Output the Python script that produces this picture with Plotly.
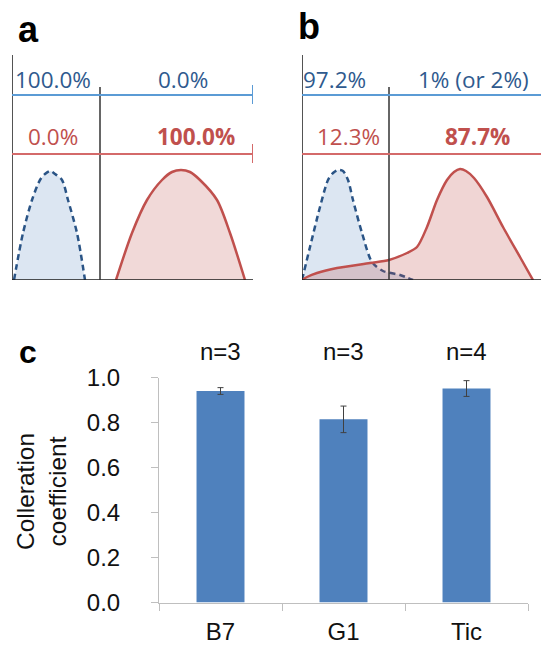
import plotly.graph_objects as go

W, H = 541, 645

# ---------------- data ----------------
# panel c: bar chart
categories = ["B7", "G1", "Tic"]
coef_values = [0.940, 0.814, 0.951]
coef_errors = [0.015, 0.059, 0.035]
n_labels = ["n=3", "n=3", "n=4"]
y_ticks = [0.0, 0.2, 0.4, 0.6, 0.8, 1.0]

# panel a: distribution outlines (x, height) in panel units
a_blue_x = [2, 11, 20, 28, 33, 38, 43, 50, 56, 65, 73]
a_blue_y = [0, 47, 80, 100, 106, 109, 106, 100, 80, 47, 0]
a_red_x = [104, 120, 135, 150, 160, 169, 178, 188, 205, 218, 233]
a_red_y = [0, 47, 80, 100, 108, 110, 108, 100, 80, 47, 0]

# panel b
b_blue_x = [0, 8, 18, 26, 31, 36, 41, 46, 51, 60, 70, 81, 98, 111]
b_blue_y = [0, 33, 73, 100, 107, 110, 109, 100, 80, 47, 18, 9, 5, 0]
b_red_x = [0, 5, 15, 35, 68, 87, 105, 115, 125, 135, 145, 152, 158, 164, 172, 185, 201, 218, 231]
b_red_y = [0, 3, 7, 12, 17, 20, 27, 33, 53, 80, 100, 108, 111, 109, 102, 83, 53, 23, 0]

# percentages
a_top = ["100.0%", "0.0%"]
a_bottom = ["0.0%", "<b>100.0%</b>"]
b_top = ["97.2%", "1% (or 2%)"]
b_bottom = ["12.3%", "<b>87.7%</b>"]

# ---------------- styles ----------------
BLUE_TXT = "#2F5A8E"
RED_TXT = "#C0504D"
BLUE_LINE = "#5B9BD5"
RED_LINE = "#D46A6A"
BLUE_CURVE = "#2A5486"
RED_CURVE = "#C0504D"
BLUE_FILL = "rgba(79,129,189,0.20)"
RED_FILL = "rgba(192,80,77,0.22)"
BAR = "#4F81BD"
AXG = "#BFBFBF"
TXT_FONT = "Open Sans"

fig = go.Figure()

def px2x(px):
    return px / W

def py2y(py):
    return 1 - py / H

# ---- panel a traces ----
fig.add_trace(go.Scatter(x=a_blue_x, y=a_blue_y, xaxis="x2", yaxis="y2",
                         mode="lines", line=dict(color=BLUE_CURVE, width=2.5, dash="6px,4px", shape="spline", smoothing=0.8),
                         fill="tozeroy", fillcolor=BLUE_FILL, hoverinfo="skip"))
fig.add_trace(go.Scatter(x=a_red_x, y=a_red_y, xaxis="x2", yaxis="y2",
                         mode="lines", line=dict(color=RED_CURVE, width=2.5, shape="spline", smoothing=0.8),
                         fill="tozeroy", fillcolor=RED_FILL, hoverinfo="skip"))
# ---- panel b traces ----
fig.add_trace(go.Scatter(x=b_blue_x, y=b_blue_y, xaxis="x3", yaxis="y3",
                         mode="lines", line=dict(color=BLUE_CURVE, width=2.5, dash="6px,4px", shape="spline", smoothing=0.8),
                         fill="tozeroy", fillcolor=BLUE_FILL, hoverinfo="skip"))
fig.add_trace(go.Scatter(x=b_red_x, y=b_red_y, xaxis="x3", yaxis="y3",
                         mode="lines", line=dict(color=RED_CURVE, width=2.5, shape="spline", smoothing=0.8),
                         fill="tozeroy", fillcolor="rgba(192,80,77,0.24)", hoverinfo="skip"))

# ---- panel c bars ----
fig.add_trace(go.Bar(x=categories, y=coef_values, marker=dict(color=BAR, line=dict(width=0)),
                     width=0.39,
                     error_y=dict(type="data", array=coef_errors, visible=True, color="#404040",
                                  thickness=1, width=3),
                     xaxis="x", yaxis="y", hoverinfo="skip"))

# ---------------- shapes for panels a, b ----------------
shapes = []
def panel_shapes(xr, yr, x_end, mid, tick_end):
    s = []
    s.append(dict(type="line", xref=xr, yref=yr, x0=0, x1=0, y0=0, y1=225, line=dict(color="#1a1a1a", width=1.5)))
    s.append(dict(type="line", xref=xr, yref=yr, x0=0, x1=x_end, y0=0, y1=0, line=dict(color="#1a1a1a", width=1.5)))
    s.append(dict(type="line", xref=xr, yref=yr, x0=mid, x1=mid, y0=0, y1=193, line=dict(color="#333333", width=1.5)))
    s.append(dict(type="line", xref=xr, yref=yr, x0=0, x1=x_end, y0=185, y1=185, line=dict(color=BLUE_LINE, width=2)))
    s.append(dict(type="line", xref=xr, yref=yr, x0=0, x1=x_end, y0=126, y1=126, line=dict(color=RED_LINE, width=2)))
    if tick_end:
        s.append(dict(type="line", xref=xr, yref=yr, x0=x_end, x1=x_end, y0=176, y1=195, line=dict(color=BLUE_LINE, width=2)))
        s.append(dict(type="line", xref=xr, yref=yr, x0=x_end, x1=x_end, y0=117, y1=136, line=dict(color=RED_LINE, width=2)))
    return s

shapes += panel_shapes("x2", "y2", 241, 88, True)
shapes += panel_shapes("x3", "y3", 239, 87, False)

# ---------------- annotations ----------------
ann = []
def txt(xr, yr, x, y, t, color, size=22.5):
    return dict(xref=xr, yref=yr, x=x, y=y, text=t, showarrow=False,
                font=dict(family=TXT_FONT, size=size, color=color), xanchor="center", yanchor="middle")

ann.append(txt("x2", "y2", 40.5, 201, a_top[0], BLUE_TXT))
ann.append(txt("x2", "y2", 170.5, 201, a_top[1], BLUE_TXT))
ann.append(txt("x2", "y2", 40.7, 144, a_bottom[0], RED_TXT))
ann.append(txt("x2", "y2", 184, 144, a_bottom[1], RED_TXT))
ann.append(txt("x3", "y3", 32, 201, b_top[0], BLUE_TXT))
ann.append(txt("x3", "y3", 171, 201, b_top[1], BLUE_TXT))
ann.append(txt("x3", "y3", 46.5, 144, b_bottom[0], RED_TXT))
ann.append(txt("x3", "y3", 175.5, 144, b_bottom[1], RED_TXT))

# panel letters
for letter, cx, cy, sz in [("a", 28, 29, 36), ("b", 309, 27, 36), ("c", 28, 352, 32)]:
    ann.append(dict(xref="paper", yref="paper", x=px2x(cx), y=py2y(cy), text="<b>%s</b>" % letter,
                    showarrow=False, xanchor="center", yanchor="middle",
                    font=dict(family="Liberation Sans", size=sz, color="black")))

# n labels
for cat, lab in zip(categories, n_labels):
    ann.append(dict(xref="x", yref="paper", x=cat, y=py2y(351), text=lab, showarrow=False,
                    xanchor="center", yanchor="middle",
                    font=dict(family="Liberation Sans", size=24, color="#111111")))

# y axis title
ann.append(dict(xref="paper", yref="paper", x=px2x(41), y=py2y(492), text="Colleration<br>coefficient",
                showarrow=False, textangle=-90, xanchor="center", yanchor="middle",
                font=dict(family="Liberation Sans", size=24.5, color="#111111")))

fig.update_layout(
    width=W, height=H,
    margin=dict(l=0, r=0, t=0, b=0, autoexpand=False),
    paper_bgcolor="white", plot_bgcolor="white",
    showlegend=False,
    bargap=0.61,
    shapes=shapes,
    annotations=ann,
    xaxis=dict(domain=[px2x(159), px2x(528)], type="category", showline=True, linecolor=AXG, linewidth=1,
               ticks="outside", ticklen=7, tickcolor=AXG, tickson="boundaries", showgrid=False, zeroline=False,
               tickfont=dict(family="Liberation Sans", size=24, color="#111111"), ticklabelstandoff=8,
               automargin=False, fixedrange=True),
    yaxis=dict(domain=[py2y(602.5), py2y(377.5)], range=[0, 1], tickvals=y_ticks,
               ticktext=["%.1f" % v for v in y_ticks], showline=True, linecolor=AXG, linewidth=1,
               ticks="outside", ticklen=7, tickcolor=AXG, showgrid=False, zeroline=False,
               tickfont=dict(family="Liberation Sans", size=24, color="#111111"), ticklabelstandoff=26,
               automargin=False, fixedrange=True),
    xaxis2=dict(domain=[px2x(12), px2x(253)], range=[0, 241], visible=False, fixedrange=True, automargin=False),
    yaxis2=dict(domain=[py2y(280), py2y(55)], range=[0, 225], visible=False, fixedrange=True, automargin=False),
    xaxis3=dict(domain=[px2x(302), 1.0], range=[0, 239], visible=False, fixedrange=True, automargin=False),
    yaxis3=dict(domain=[py2y(280), py2y(55)], range=[0, 225], visible=False, fixedrange=True, automargin=False),
)

fig.write_html("out.html", config={"displayModeBar": False, "staticPlot": True},
               post_script="document.body.style.margin='0';document.body.style.overflow='hidden';")
